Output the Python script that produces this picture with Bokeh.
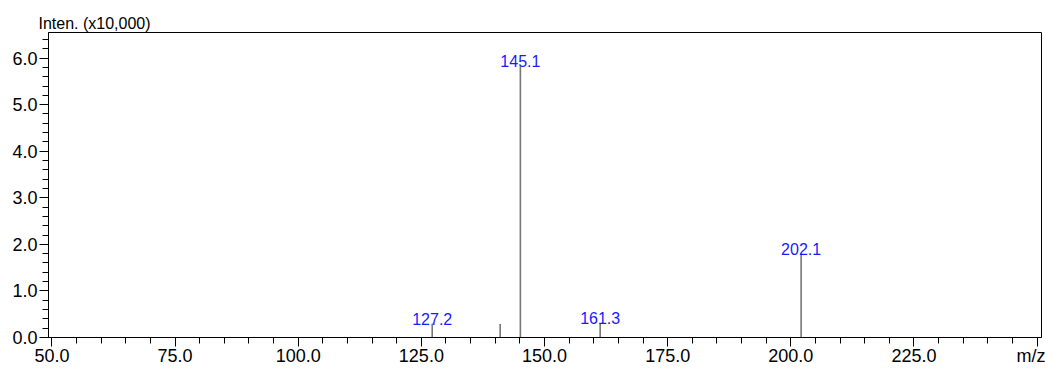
from bokeh.plotting import figure
from bokeh.models import Range1d, FixedTicker, Title, ColumnDataSource
from bokeh.core.properties import value
from bokeh.embed import file_html
from bokeh.resources import INLINE

# Mass spectrum peaks: m/z and intensity (x10,000)
mz = [127.2, 141.0, 145.1, 161.3, 202.1]
intensity = [0.30, 0.29, 5.83, 0.31, 1.80]
peak_labels = ["127.2", "", "145.1", "161.3", "202.1"]

x_major = [50, 75, 100, 125, 150, 175, 200, 225, 250]
x_minor = [v for v in range(50, 251, 5)]
y_major = [0, 1, 2, 3, 4, 5, 6]
y_minor = [round(i * 0.2, 1) for i in range(0, 33)]

FONT = "Liberation Sans"

src = ColumnDataSource(dict(mz=mz, inten=intensity, zero=[0] * len(mz), lab=peak_labels))

p = figure(width=1045, height=368, output_backend="svg", toolbar_location=None,
           x_range=Range1d(49.3, 250.9), y_range=Range1d(0, 6.55),
           min_border_left=48, min_border_right=4, min_border_top=32, min_border_bottom=31)
p.title.visible = False
p.xgrid.visible = False
p.ygrid.visible = False
p.outline_line_color = "black"
p.outline_line_width = 1
p.background_fill_color = "white"
p.border_fill_color = "white"

# peak sticks
p.segment(x0="mz", y0="zero", x1="mz", y1="inten", source=src,
          line_color="#777777", line_width=1.6)

# peak value labels, sitting on top of each stick
p.text(x="mz", y="inten", text="lab", source=src, text_align="center",
       text_baseline="bottom", text_color="#1a1aff",
       text_font=value(FONT), text_font_size="16px", y_offset=1)

# x axis
xa = p.xaxis[0]
xa.ticker = FixedTicker(ticks=x_major, minor_ticks=x_minor)
xa.major_label_overrides = {v: f"{v:.1f}" for v in x_major}
xa.major_label_overrides[250] = "m/z"
xa.axis_line_color = "black"
xa.major_tick_line_color = "black"
xa.minor_tick_line_color = "black"
xa.major_tick_in = 0
xa.major_tick_out = 9
xa.minor_tick_in = 0
xa.minor_tick_out = 6
xa.major_label_standoff = -1
xa.major_label_text_font = FONT
xa.major_label_text_font_size = "18px"
xa.major_label_text_color = "black"

# y axis
ya = p.yaxis[0]
ya.ticker = FixedTicker(ticks=y_major, minor_ticks=y_minor)
ya.major_label_overrides = {v: f"{v:.1f}" for v in y_major}
ya.axis_line_color = "black"
ya.major_tick_line_color = "black"
ya.minor_tick_line_color = "black"
ya.major_tick_in = 0
ya.major_tick_out = 9
ya.minor_tick_in = 0
ya.minor_tick_out = 6
ya.major_label_standoff = 2
ya.major_label_text_font = FONT
ya.major_label_text_font_size = "18px"
ya.major_label_text_color = "black"

# intensity unit caption above the plot area
p.add_layout(Title(text="Inten. (x10,000)", align="left", offset=-10, standoff=2,
                   text_font=FONT, text_font_size="16px", text_font_style="normal",
                   text_color="black"), "above")

open("out.html", "w").write(file_html(p, INLINE))
